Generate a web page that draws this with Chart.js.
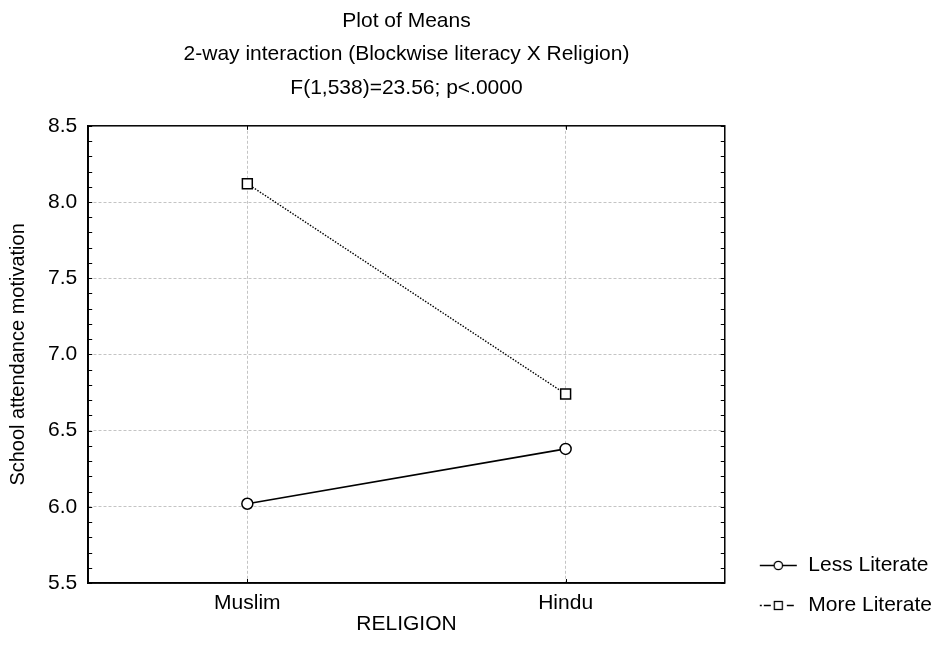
<!DOCTYPE html>
<html>
<head>
<meta charset="utf-8">
<script src="https://cdn.jsdelivr.net/npm/chart.js@4"></script>
<style>
  html, body { margin: 0; padding: 0; background: #fff; }
  #wrap { width: 942px; height: 650px; }
</style>
</head>
<body>
<div id="wrap"><canvas id="chart" width="942" height="650"></canvas></div>
<script>
'use strict'

const religions = ['Muslim', 'Hindu'];
const lessLiterate = [6.02, 6.38];
const moreLiterate = [8.12, 6.74];
const seriesNames = ['Less Literate', 'More Literate'];
const titleLines = ['Plot of Means', '2-way interaction (Blockwise literacy X Religion)', 'F(1,538)=23.56; p<.0000'];
const yTitle = 'School attendance motivation';
const xTitle = 'RELIGION';
const yMin = 5.5;
const yMax = 8.5;
const yStep = 0.5;
const yMinorStep = 0.1;

const FONT = 'Liberation Sans, Arial, sans-serif';
const GRID = '#c4c4c4';

// small line + marker picture for the legend
function legendSymbol(kind) {
    const c = document.createElement('canvas');
    c.width = 54;
    c.height = 16;
    const g = c.getContext('2d');
    g.strokeStyle = '#000';
    g.fillStyle = '#fff';
    g.lineWidth = 1.3;
    const cy = 8.5;
    if (kind === 'circle') {
        g.beginPath(); g.moveTo(16, cy); g.lineTo(53, cy); g.stroke();
        g.beginPath(); g.arc(34.5, cy, 4.2, 0, Math.PI * 2); g.fill(); g.stroke();
    } else {
        g.beginPath();
        g.moveTo(16, cy); g.lineTo(18, cy);
        g.moveTo(20, cy); g.lineTo(27, cy);
        g.moveTo(43, cy); g.lineTo(50, cy);
        g.stroke();
        g.fillRect(30.5, cy - 4, 8, 8);
        g.strokeRect(30.5, cy - 4, 8, 8);
    }
    return c;
}

const frame = {
    id: 'frame',
    afterDraw(chart) {
        const {ctx, chartArea: a, scales: {x, y}} = chart;
        ctx.save();
        ctx.strokeStyle = '#000';
        ctx.lineWidth = 1.5;
        ctx.strokeRect(a.left, a.top, a.right - a.left, a.bottom - a.top);
        ctx.lineWidth = 1;
        ctx.beginPath();
        for (let v = yMin; v <= yMax + 1e-9; v += yMinorStep) {
            const py = Math.round(y.getPixelForValue(v)) + 0.5;
            ctx.moveTo(a.left, py); ctx.lineTo(a.left + 4, py);
            ctx.moveTo(a.right, py); ctx.lineTo(a.right - 4, py);
        }
        religions.forEach((r, i) => {
            const px = Math.round(x.getPixelForValue(i)) + 0.5;
            ctx.moveTo(px, a.top); ctx.lineTo(px, a.top + 4);
            ctx.moveTo(px, a.bottom); ctx.lineTo(px, a.bottom - 4);
        });
        ctx.stroke();
        ctx.restore();
    }
};

const symbols = [legendSymbol('circle'), legendSymbol('square')];

new Chart(document.getElementById('chart'), {
    type: 'line',
    data: {
        labels: religions,
        datasets: [
            {
                label: seriesNames[0],
                data: lessLiterate,
                borderColor: '#000',
                borderWidth: 1.7,
                pointStyle: 'circle',
                pointRadius: 5.5,
                pointBackgroundColor: '#fff',
                pointBorderColor: '#000',
                pointBorderWidth: 1.5
            },
            {
                label: seriesNames[1],
                data: moreLiterate,
                borderColor: '#000',
                borderWidth: 1.4,
                borderDash: [1.5, 1.5],
                pointStyle: 'rect',
                pointRadius: 7,
                pointBackgroundColor: '#fff',
                pointBorderColor: '#000',
                pointBorderWidth: 1.5
            }
        ]
    },
    options: {
        responsive: false,
        animation: false,
        devicePixelRatio: 1,
        layout: { padding: { left: 0, right: 0, top: 0, bottom: 15.5 } },
        plugins: {
            title: {
                display: true,
                text: titleLines,
                fullSize: false,
                color: '#000',
                font: { family: FONT, size: 21, weight: 'normal', lineHeight: 1.6 },
                padding: { top: 4, bottom: 21 }
            },
            legend: {
                position: 'right',
                align: 'end',
                labels: {
                    usePointStyle: true,
                    pointStyleWidth: 54,
                    padding: 19,
                    color: '#000',
                    font: { family: FONT, size: 21 },
                    generateLabels: () => seriesNames.map((name, i) => ({
                        text: name,
                        pointStyle: symbols[i],
                        datasetIndex: i,
                        hidden: false,
                        fontColor: '#000',
                        lineWidth: 0
                    }))
                }
            },
            tooltip: { enabled: false }
        },
        scales: {
            x: {
                offset: true,
                grid: { color: GRID, lineWidth: 1, drawTicks: false },
                border: { display: true, color: '#000', width: 1.5, dash: [3, 2] },
                ticks: { color: '#000', font: { family: FONT, size: 21, lineHeight: 1 }, padding: 9.5 },
                title: {
                    display: true,
                    text: xTitle,
                    color: '#000',
                    font: { family: FONT, size: 21, lineHeight: 1 },
                    padding: { top: -9.5, bottom: 0 }
                }
            },
            y: {
                min: yMin,
                max: yMax,
                grid: { color: GRID, lineWidth: 1, drawTicks: false },
                border: { display: true, color: '#000', width: 1.5, dash: [3, 2] },
                ticks: {
                    stepSize: yStep,
                    color: '#000',
                    font: { family: FONT, size: 21, lineHeight: 1 },
                    padding: 11,
                    callback: v => v.toFixed(1)
                },
                title: {
                    display: true,
                    text: yTitle,
                    color: '#000',
                    font: { family: FONT, size: 20, lineHeight: 1.2 },
                    padding: { top: 6, bottom: 7 }
                }
            }
        }
    },
    plugins: [frame]
});
</script>
</body>
</html>
